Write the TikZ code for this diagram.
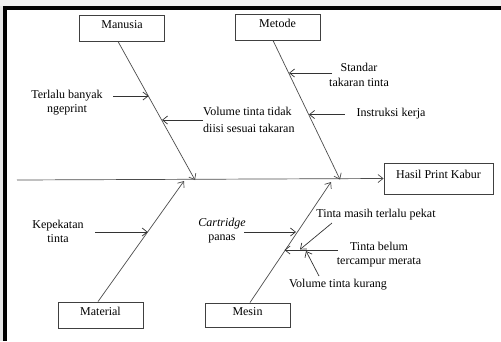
\documentclass[tikz,border=0pt]{standalone}
\usepackage{fontspec}
\setmainfont{Liberation Serif}
\usetikzlibrary{arrows.meta}
\begin{document}
\begin{tikzpicture}[x=1pt,y=-1pt,
  font=\fontsize{12}{14}\selectfont,
  box/.style={draw=black!75, line width=0.9pt, minimum width=85pt,
    minimum height=26pt, inner sep=0pt, text height=8pt, text depth=8pt},
  tip/.style={-{Straight Barb[length=5pt,width=8pt]}},
  bone/.style={draw=black!70, line width=0.7pt, tip},
  cause/.style={draw=black!80, line width=0.7pt, tip},
  lbl/.style={inner sep=0pt, align=center}]
\useasboundingbox (0,0) rectangle (501,341);

% page edge and frame
\fill[black!6] (0,0) rectangle (501,6);
\fill[black!10] (0,6) rectangle (3.3,341);
\fill[black] (3.3,6) rectangle (501,9.5);
\fill[black] (3.3,6) rectangle (7,341);

% category boxes and effect
\node[box] (manusia) at (122,28) {Manusia};
\node[box] (metode) at (277.5,27) {Metode};
\node[box, minimum width=109pt, minimum height=31pt] (hasil) at (438.5,178.5) {Hasil Print Kabur};
\node[box] (material) at (100.5,315) {Material};
\node[box, minimum height=24pt] (mesin) at (247.5,315) {Mesin};

% spine
\coordinate (spL) at (17,180);
\draw[bone] (spL) -- (hasil.west);

% bones
\coordinate (manJ) at (195,180);
\coordinate (metJ) at (340,179.5);
\coordinate (matJ) at (184,181);
\coordinate (mesJ) at (331,182);
\draw[bone] ([xshift=-4pt]manusia.south) -- (manJ);
\draw[bone] ([xshift=-4.5pt]metode.south) -- (metJ);
\draw[bone] ([xshift=-2.5pt]material.north) -- (matJ);
\draw[bone] ([xshift=2.5pt]mesin.north) -- (mesJ);

% cause labels
\node[lbl] (t1) at (67,103) {Terlalu banyak\\ngeprint};
\node[lbl, anchor=west, align=left, font=\fontsize{12}{17}\selectfont] (t2) at (203,119.5) {Volume tinta tidak\\diisi sesuai takaran};
\node[lbl, font=\fontsize{12}{15}\selectfont] (t3) at (359,74.5) {Standar\\takaran tinta};
\node[lbl] (t4) at (391,114) {Instruksi kerja};
\node[lbl] (t5) at (58,231) {Kepekatan\\tinta};
\node[lbl] (t6) at (222,231) {\textit{Cartridge}\\panas};
\node[lbl] (t7) at (376,215) {Tinta masih terlalu pekat};
\node[lbl] (t8) at (379,255) {Tinta belum\\tercampur merata};
\node[lbl] (t9) at (338,285) {Volume tinta kurang};

% cause arrows
\coordinate (a1s) at (113,96);   \coordinate (a1e) at (148.5,96);
\coordinate (a2s) at (203,120);  \coordinate (a2e) at (162,120);
\coordinate (a3s) at (332,73);   \coordinate (a3e) at (289,73);
\coordinate (a4s) at (344.5,114.5); \coordinate (a4e) at (309,114.5);
\coordinate (a5s) at (95,232);   \coordinate (a5e) at (147.7,232);
\coordinate (a6s) at (244,232);  \coordinate (a6e) at (296,232);
\coordinate (a8s) at (338,250);  \coordinate (a8e) at (284.5,250);
\coordinate (a7s) at (332,223);  \coordinate (a7e) at (300,249.5);
\coordinate (a9s) at (319,276);  \coordinate (a9e) at (306,251);
\draw[cause] (a1s) -- (a1e);
\draw[cause] (a2s) -- (a2e);
\draw[cause] (a3s) -- (a3e);
\draw[cause] (a4s) -- (a4e);
\draw[cause] (a5s) -- (a5e);
\draw[cause] (a6s) -- (a6e);
\draw[cause] (a8s) -- (a8e);
\draw[cause] (a7s) -- (a7e);
\draw[cause] (a9s) -- (a9e);
\end{tikzpicture}
\end{document}
